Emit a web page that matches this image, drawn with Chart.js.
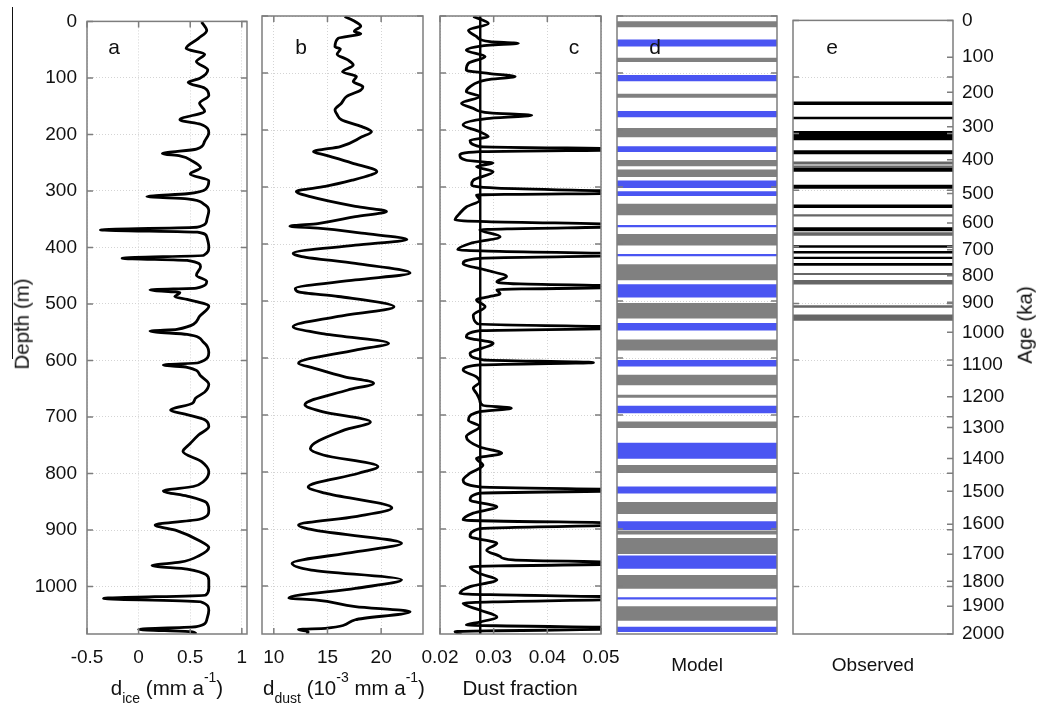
<!DOCTYPE html>
<html>
<head>
<meta charset="utf-8">
<script src="https://cdn.jsdelivr.net/npm/chart.js@4.4.0/dist/chart.umd.min.js"></script>
<style>
body { margin:0; background:#fff; width:1038px; height:709px; position:relative; overflow:hidden;
       font-family:"Liberation Sans", Arial, sans-serif; color:#111; }
canvas { position:absolute; top:0; }
.t { position:absolute; font-size:20.5px; line-height:1; white-space:nowrap; transform:translate(-50%,-50%); }
.t sub, .t sup { font-size:14px; line-height:0; position:relative; vertical-align:baseline; }
.t sub { top:8px; }
.t sup { top:-13px; }
.rot { transform:translate(-50%,-50%) rotate(-90deg); }
.lbl { font-size:21px; }
#edge { position:absolute; left:12px; top:7px; width:1.3px; height:352px; background:#111; }
</style>
</head>
<body>
<div id="edge"></div>
<canvas id="pa" width="280" height="709" style="left:0px"></canvas>
<canvas id="pb" width="230" height="709" style="left:225px"></canvas>
<canvas id="pc" width="230" height="709" style="left:405px"></canvas>
<canvas id="pd" width="215" height="709" style="left:590px"></canvas>
<canvas id="pe" width="273" height="709" style="left:765px"></canvas>

<div class="t lbl" style="left:114px;top:45.7px">a</div>
<div class="t lbl" style="left:301px;top:45.7px">b</div>
<div class="t lbl" style="left:574px;top:45.7px">c</div>
<div class="t lbl" style="left:655px;top:45.7px">d</div>
<div class="t lbl" style="left:832px;top:45.7px">e</div>

<div class="t rot" style="left:22px;top:324px">Depth (m)</div>
<div class="t rot" style="left:1025px;top:325px">Age (ka)</div>
<div class="t" style="left:167px;top:688px">d<sub>ice</sub> (mm a<sup>-1</sup>)</div>
<div class="t" style="left:344px;top:688px">d<sub>dust</sub> (10<sup>-3</sup> mm a<sup>-1</sup>)</div>
<div class="t" style="left:520px;top:688px">Dust fraction</div>

<script>
// depth (m) vs. value
var iceCurve = [[1,0.61],[16,0.66],[30,0.58],[48,0.46],[58,0.64],[71,0.56],[86,0.67],[101,0.59],[108,0.48],[118,0.64],
  [131,0.68],[145,0.59],[159,0.64],[174,0.40],[182,0.60],[197,0.68],[212,0.64],[226,0.56],[234,0.23],[238,0.40],
  [247,0.52],[259,0.60],[270,0.50],[282,0.68],[297,0.65],[305,0.47],[310,0.08],[314,0.47],[323,0.63],[335,0.68],
  [352,0.66],[364,0.57],[369,-0.37],[373,0.57],[381,0.66],[399,0.68],[414,0.63],[419,-0.16],[423,0.47],[434,0.60],
  [449,0.56],[460,0.66],[472,0.56],[475,0.11],[480,0.40],[487,0.35],[492,0.47],[504,0.68],[522,0.59],[545,0.37],
  [548,0.11],[554,0.47],[568,0.63],[586,0.68],[604,0.58],[608,0.24],[612,0.47],[627,0.60],[642,0.68],[656,0.64],
  [667,0.55],[676,0.52],[688,0.31],[695,0.45],[705,0.64],[717,0.68],[732,0.58],[747,0.50],[761,0.43],[779,0.61],
  [797,0.68],[814,0.63],[823,0.53],[831,0.24],[840,0.47],[852,0.66],[866,0.68],[881,0.59],[891,0.16],[901,0.37],
  [919,0.59],[931,0.68],[945,0.59],[957,0.40],[963,0.13],[969,0.47],[989,0.68],[1003,0.68],[1015,0.65],[1021,-0.34],
  [1027,0.60],[1042,0.68],[1059,0.66],[1071,0.56],[1076,0.0],[1080,0.50],[1084,0.56]];

var dustCurve = [[1,16.6],[10,17.6],[18,18.1],[27,17.5],[31,18.1],[39,16.0],[54,15.7],[58,16.2],[67,15.9],[77,16.9],
  [86,17.4],[98,16.4],[106,17.7],[115,17.4],[124,18.3],[130,18.1],[141,16.8],[153,16.3],[165,15.7],[173,15.9],
  [182,16.3],[194,18.2],[203,19.1],[212,18.2],[229,16.2],[238,13.7],[244,14.8],[258,17.3],[273,19.6],[279,19.0],
  [288,17.3],[299,14.8],[308,12.1],[317,13.4],[334,17.6],[343,20.5],[352,17.6],[364,14.1],[369,11.5],[372,14.1],
  [381,18.2],[392,22.4],[402,17.6],[416,11.8],[422,12.6],[434,17.6],[451,22.7],[463,17.6],[478,12.0],[484,12.3],
  [492,16.0],[510,21.2],[527,16.0],[545,11.8],[557,14.5],[574,20.7],[586,17.6],[609,12.3],[618,13.8],[633,16.6],
  [644,19.3],[656,16.9],[682,12.9],[694,14.5],[712,19.0],[726,16.6],[759,13.4],[770,14.6],[790,19.7],[802,17.9],
  [826,13.2],[837,14.8],[863,21.0],[878,17.6],[893,12.3],[902,13.8],[925,21.9],[940,17.6],[960,11.7],[972,13.5],
  [989,21.9],[1004,17.6],[1021,11.4],[1024,13.8],[1036,17.6],[1045,22.7],[1059,17.6],[1074,14.8],[1076,12.3],[1080,13.2],
  [1084,13.1]];

var fracCurve = [[1,0.0262],[13,0.0290],[25,0.0253],[36,0.0268],[45,0.0293],[48,0.0346],[51,0.0293],[60,0.0249],[71,0.0284],[83,0.0253],
  [95,0.0249],[101,0.0293],[106,0.0340],[112,0.0287],[124,0.0256],[133,0.0249],[141,0.0274],[153,0.0240],[162,0.0262],[170,0.0293],
  [174,0.0371],[180,0.0287],[191,0.0243],[203,0.0274],[212,0.0290],[218,0.0256],[229,0.0274],[234,0.06],[238,0.0274],[244,0.0237],
  [253,0.0249],[258,0.0299],[264,0.0268],[273,0.0299],[288,0.0262],[296,0.0259],[302,0.0306],[310,0.06],[314,0.0268],[323,0.0274],
  [335,0.0249],[346,0.0237],[358,0.0228],[368,0.06],[375,0.0274],[387,0.0312],[399,0.0256],[410,0.0233],[419,0.06],[425,0.0274],
  [434,0.0243],[446,0.0287],[457,0.0324],[466,0.0306],[470,0.0349],[475,0.06],[480,0.0306],[487,0.0312],[498,0.0268],[510,0.0284],
  [525,0.0262],[540,0.0270],[547,0.06],[552,0.0274],[563,0.0249],[574,0.0299],[592,0.0256],[603,0.0280],[608,0.0486],[612,0.0274],
  [621,0.0243],[633,0.0268],[642,0.0274],[653,0.0262],[662,0.0268],[674,0.0274],[683,0.0280],[688,0.0333],[694,0.0274],[709,0.0253],
  [720,0.0274],[738,0.0249],[756,0.0274],[767,0.0315],[776,0.0268],[788,0.0280],[802,0.0256],[814,0.0243],[826,0.0274],[832,0.06],
  [837,0.0274],[849,0.0256],[861,0.0306],[872,0.0262],[884,0.0243],[891,0.06],[899,0.0274],[913,0.0256],[925,0.0306],[937,0.0287],
  [948,0.0312],[954,0.0336],[960,0.06],[966,0.0256],[978,0.0274],[989,0.0306],[1001,0.0256],[1013,0.0237],[1021,0.06],[1030,0.0243],
  [1042,0.0274],[1054,0.0306],[1063,0.0274],[1068,0.0249],[1074,0.06],[1080,0.0228],[1084,0.0240]];
var fracMean = 0.0275;

// model / observed bands, [top, bottom] depth in m
var modelBlue = [[42,53],[104,114],[167,177],[229,238],[289,301],[308,315],[367,370],[418,421],[471,493],[539,551],
  [604,614],[684,696],[749,776],[826,837],[887,901],[947,969],[1020,1023],[1072,1080]];
var modelGray = [[10,19],[74,80],[137,143],[197,212],[253,263],[270,282],[330,349],[383,402],[436,463],[504,530],
  [568,586],[630,647],[665,669],[712,722],[788,801],[853,873],[903,909],[916,943],[981,1004],[1036,1060]];
var obsBlack = [[144,149],[171,174],[196,211],[230,236],[261,267],[291,297],[326,331],[366,372],[398,401],[408,411],
  [418,421],[429,433]];
var obsGray = [[250,254],[257,260],[343,346],[375,380],[447,449],[459,466],[504,507],[520,530]];

// axes
var depthMax = 1084;
var depthTicks = [0,100,200,300,400,500,600,700,800,900,1000];
var ageLabels = [0,100,200,300,400,500,600,700,800,900,1000,1100,1200,1300,1400,1500,1600,1700,1800,1900,2000];
var ageDepth = [0,65,127,188,246,306,358,405,451,498,551,609,665,719,774,832,890,943,991,1035,1084];
var iceTicks = [-0.5,0,0.5,1];
var dustTicks = [10,15,20];
var fracTicks = [0.02,0.03,0.04,0.05];

var FONT = '"Liberation Sans", Arial, sans-serif';
var INK = '#111';
var GRID = '#d4d4d4';
var BOX = '#7d7d7d';

var boxPlugin = {
  id: 'box',
  afterDatasetsDraw: function(chart) {
    var ctx = chart.ctx, a = chart.chartArea, s = chart.scales, len = 6;
    ctx.save();
    ctx.strokeStyle = BOX;
    ctx.lineWidth = 1.5;
    ctx.beginPath();
    s.y.ticks.forEach(function(t) {
      var p = s.y.getPixelForValue(t.value);
      ctx.moveTo(a.left, p); ctx.lineTo(a.left + len, p);
      ctx.moveTo(a.right, p); ctx.lineTo(a.right - len, p);
    });
    if (s.x.type === 'linear') s.x.ticks.forEach(function(t) {
      var p = s.x.getPixelForValue(t.value);
      ctx.moveTo(p, a.top); ctx.lineTo(p, a.top + len);
      ctx.moveTo(p, a.bottom); ctx.lineTo(p, a.bottom - len);
    });
    if (s.y2) s.y2.ticks.forEach(function(t) {
      var p = s.y2.getPixelForValue(t.value);
      ctx.moveTo(a.right, p); ctx.lineTo(a.right - len, p);
    });
    ctx.stroke();
    ctx.strokeRect(a.left, a.top, a.width, a.height);
    ctx.restore();
  }
};

function depthAxis(showLabels) {
  return {
    type: 'linear', reverse: true, min: 0, max: depthMax, position: 'left',
    afterBuildTicks: function(sc) { sc.ticks = depthTicks.map(function(v) { return {value: v}; }); },
    ticks: {display: showLabels, color: INK, font: {size: 19, family: FONT}, padding: 10, autoSkip: false,
            callback: function(v) { return String(v); }},
    grid: {color: GRID, drawTicks: false, lineWidth: 1},
    border: {display: false, dash: [1, 2]},
    afterFit: function(sc) { sc.width = showLabels ? 87 : 0; }
  };
}

function valueAxis(min, max, tickList) {
  return {
    type: 'linear', min: min, max: max,
    afterBuildTicks: function(sc) { sc.ticks = tickList.map(function(v) { return {value: v}; }); },
    ticks: {color: INK, font: {size: 19, family: FONT}, padding: 12, maxRotation: 0,
            callback: function(v) { return String(v); }},
    grid: {color: GRID, drawTicks: false, lineWidth: 1},
    border: {display: false, dash: [1, 2]},
    afterFit: function(sc) { sc.height = 75; }
  };
}

function curve(points) {
  return {
    data: points.map(function(p) { return {x: p[1], y: p[0]}; }),
    borderColor: '#000', borderWidth: 2.8, pointRadius: 0,
    cubicInterpolationMode: 'monotone', clip: 0
  };
}

function curveChart(id, datasets, xAxis, showDepth, pad) {
  return new Chart(document.getElementById(id), {
    type: 'line',
    data: {datasets: datasets},
    options: {
      responsive: false, animation: false, indexAxis: 'y',
      layout: {padding: pad},
      plugins: {legend: {display: false}, tooltip: {enabled: false}},
      scales: {x: xAxis, y: depthAxis(showDepth)}
    },
    plugins: [boxPlugin]
  });
}

curveChart('pa', [curve(iceCurve)], valueAxis(-0.5, 1.05, iceTicks), true, {top: 16, right: 33, left: 0, bottom: 0});
curveChart('pb', [curve(dustCurve)], valueAxis(8.9, 23.9, dustTicks), false, {top: 16, right: 32, left: 37, bottom: 0});
var meanLine = curve([[0, fracMean], [depthMax, fracMean]]);
meanLine.borderWidth = 2.4;
curveChart('pc', [curve(fracCurve), meanLine], valueAxis(0.02, 0.05, fracTicks), false, {top: 16, right: 34, left: 35, bottom: 0});

function bands(list, color, label) {
  return {
    data: list.map(function(b) { return {x: label, y: b}; }),
    backgroundColor: color, borderWidth: 0,
    grouped: false, barPercentage: 1, categoryPercentage: 1
  };
}

function bandChart(id, label, sets, pad, withAge) {
  var scales = {
    x: {type: 'category', labels: [label],
        ticks: {color: INK, font: {size: 19, family: FONT}, padding: 12},
        grid: {display: false}, border: {display: false},
        afterFit: function(sc) { sc.height = 75; }},
    y: depthAxis(false)
  };
  if (withAge) {
    scales.y2 = {
      type: 'linear', position: 'right', reverse: true, min: 0, max: depthMax,
      afterBuildTicks: function(sc) { sc.ticks = ageDepth.map(function(v) { return {value: v}; }); },
      ticks: {color: INK, font: {size: 19, family: FONT}, padding: 9, autoSkip: false,
              callback: function(v, i) { return String(ageLabels[i]); }},
      grid: {display: false, drawTicks: false},
      border: {display: false},
      afterFit: function(sc) { sc.width = 85; }
    };
  }
  return new Chart(document.getElementById(id), {
    type: 'bar',
    data: {labels: [label], datasets: sets},
    options: {
      responsive: false, animation: false,
      layout: {padding: pad},
      plugins: {legend: {display: false}, tooltip: {enabled: false}},
      scales: scales
    },
    plugins: [boxPlugin]
  });
}

bandChart('pd', 'Model', [bands(modelGray, '#808080', 'Model'), bands(modelBlue, '#4a55f2', 'Model')],
  {top: 16, right: 28, left: 27, bottom: 0}, false);
bandChart('pe', 'Observed', [bands(obsGray, '#666666', 'Observed'), bands(obsBlack, '#000000', 'Observed')],
  {top: 16, right: 0, left: 28, bottom: 0}, true);
</script>
</body>
</html>
